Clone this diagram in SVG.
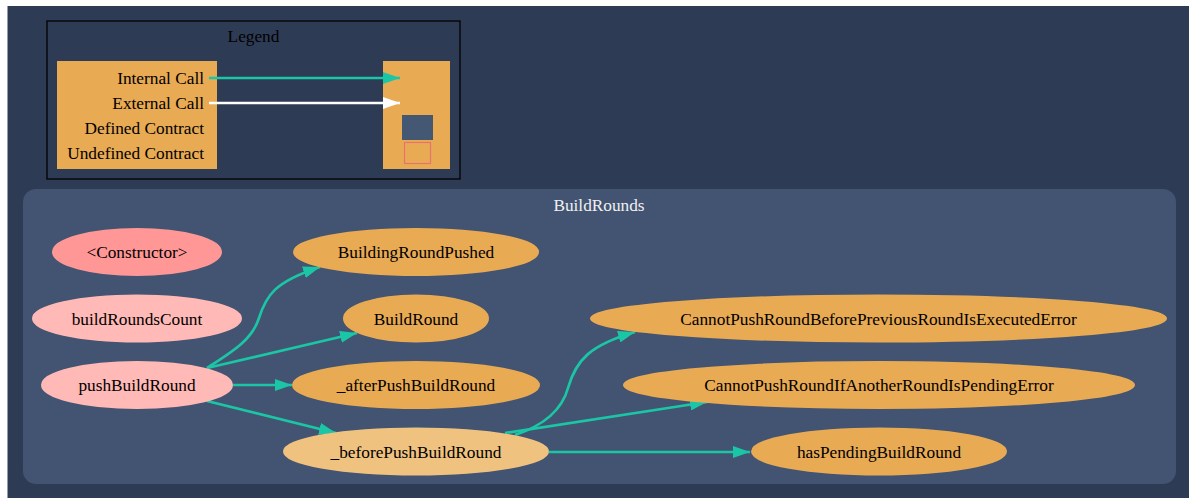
<svg xmlns="http://www.w3.org/2000/svg" width="1194" height="498" viewBox="0 0 1194 498">
<defs>
<marker id="ah" viewBox="0 0 10 10" refX="10" refY="5" markerWidth="17" markerHeight="12" markerUnits="userSpaceOnUse" orient="auto" preserveAspectRatio="none">
<path d="M0,0 L10,5 L0,10 z" fill="#1bc6a6"/>
</marker>
<marker id="ahw" viewBox="0 0 10 10" refX="10" refY="5" markerWidth="17" markerHeight="12" markerUnits="userSpaceOnUse" orient="auto" preserveAspectRatio="none">
<path d="M0,0 L10,5 L0,10 z" fill="#ffffff"/>
</marker>
</defs>
<style>
text{font-family:"Liberation Serif","Times New Roman",serif;font-size:17.3px;fill:#000}
.mid{text-anchor:middle}
.end{text-anchor:end}
.title{fill:#f0f0f0}
.fn{stroke-width:2}
.pub{fill:#ff9797;stroke:#ff9797}
.ext{fill:#ffb9b6;stroke:#ffb9b6}
.prv{fill:#e9aa54;stroke:#e9aa54}
.int{fill:#f0c27f;stroke:#f0c27f}
.call{fill:none;stroke:#1bc6a6;stroke-width:2.7;marker-end:url(#ah)}
.xcall{fill:none;stroke:#ffffff;stroke-width:2.7;marker-end:url(#ahw)}
</style>
<rect x="0" y="0" width="1194" height="498" fill="#ffffff"/>
<rect x="7.5" y="6" width="1181.5" height="492" fill="#2e3b55"/>
<g id="legend">
<rect x="47" y="21" width="413" height="158" fill="none" stroke="#000" stroke-width="1.3"/>
<text class="mid" x="253.5" y="42">Legend</text>
<rect x="57" y="61" width="160" height="108" fill="#e9aa54"/>
<text class="end" x="204" y="84">Internal Call</text>
<text class="end" x="204" y="109">External Call</text>
<text class="end" x="204" y="134">Defined Contract</text>
<text class="end" x="204" y="159">Undefined Contract</text>
<rect x="383" y="61" width="67" height="108" fill="#e9aa54"/>
<rect x="402" y="115" width="31" height="25" fill="#445773"/>
<rect x="404.5" y="142.5" width="26" height="21" fill="none" stroke="#e8726d" stroke-width="1.2"/>
<path class="call" d="M209,78 L400,78"/>
<path class="xcall" d="M209,103 L400,103"/>
</g>
<g id="cluster_BuildRounds">
<rect x="23" y="189" width="1153" height="295" rx="13" ry="13" fill="#425471"/>
<text class="mid title" x="599" y="211">BuildRounds</text>
</g>
<g id="connectors">
<path class="call" d="M207,368 C232,352 252,340 259,318 C266,296 274,282 320,267"/>
<path class="call" d="M207,368 L357,333"/>
<path class="call" d="M233,385 L292,385"/>
<path class="call" d="M207,401 L336,433"/>
<path class="call" d="M515,435 C545,425 562,410 568,388 C576,360 590,345 635,332"/>
<path class="call" d="M505,433 L707,402"/>
<path class="call" d="M549,452 L750,452"/>
</g>
<g id="node_constructor">
<ellipse class="fn pub" cx="137" cy="252" rx="84" ry="23"/>
<text class="mid" x="137" y="258">&lt;Constructor&gt;</text>
</g>
<g id="node_buildRoundsCount">
<ellipse class="fn ext" cx="137" cy="318.5" rx="104" ry="23"/>
<text class="mid" x="137" y="324.5">buildRoundsCount</text>
</g>
<g id="node_pushBuildRound">
<ellipse class="fn ext" cx="137" cy="385" rx="95" ry="23"/>
<text class="mid" x="137" y="391">pushBuildRound</text>
</g>
<g id="node_BuildingRoundPushed">
<ellipse class="fn prv" cx="416" cy="252" rx="122" ry="23"/>
<text class="mid" x="416" y="258">BuildingRoundPushed</text>
</g>
<g id="node_BuildRound">
<ellipse class="fn prv" cx="416" cy="318.5" rx="72" ry="23"/>
<text class="mid" x="416" y="324.5">BuildRound</text>
</g>
<g id="node_afterPushBuildRound">
<ellipse class="fn prv" cx="416" cy="385" rx="123" ry="23"/>
<text class="mid" x="416" y="391">_afterPushBuildRound</text>
</g>
<g id="node_beforePushBuildRound">
<ellipse class="fn int" cx="416" cy="451.5" rx="132" ry="23"/>
<text class="mid" x="416" y="457.5">_beforePushBuildRound</text>
</g>
<g id="node_CannotPushRoundBeforePreviousRoundIsExecutedError">
<ellipse class="fn prv" cx="878.5" cy="318.5" rx="287.5" ry="23"/>
<text class="mid" x="878.5" y="324.5">CannotPushRoundBeforePreviousRoundIsExecutedError</text>
</g>
<g id="node_CannotPushRoundIfAnotherRoundIsPendingError">
<ellipse class="fn prv" cx="879" cy="385" rx="255" ry="23"/>
<text class="mid" x="879" y="391">CannotPushRoundIfAnotherRoundIsPendingError</text>
</g>
<g id="node_hasPendingBuildRound">
<ellipse class="fn prv" cx="879" cy="451.5" rx="127" ry="23"/>
<text class="mid" x="879" y="457.5">hasPendingBuildRound</text>
</g>
</svg>
